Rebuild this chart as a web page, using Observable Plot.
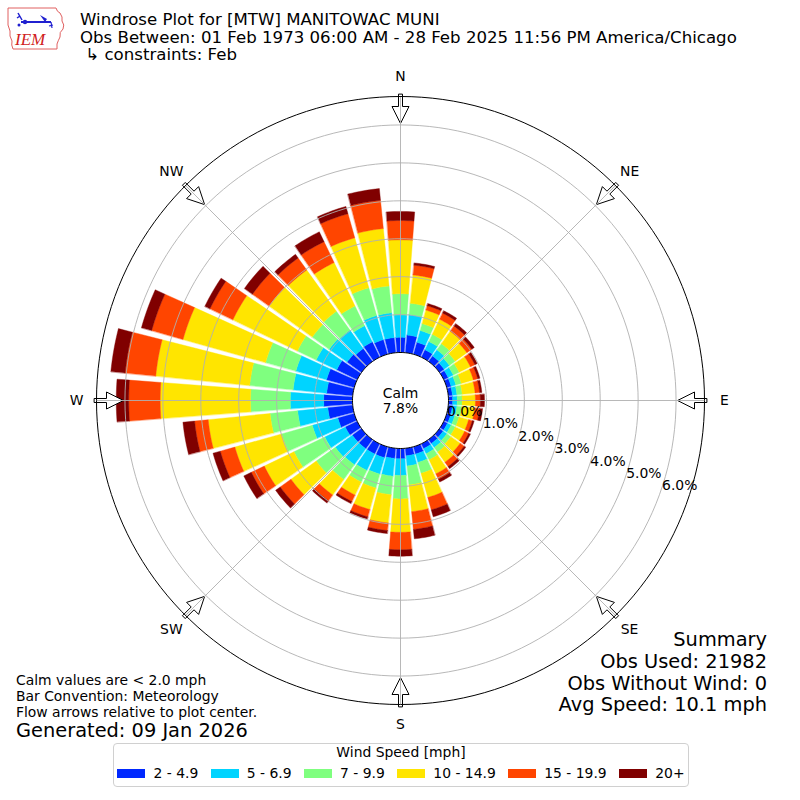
<!DOCTYPE html>
<html><head><meta charset="utf-8">
<script src="https://cdn.jsdelivr.net/npm/d3@7"></script>
<script src="https://cdn.jsdelivr.net/npm/@observablehq/plot@0.6"></script>
<style>
body{margin:0;background:#fff;font-family:"DejaVu Sans",sans-serif;}
#wrap{position:relative;width:800px;height:800px;overflow:hidden;background:#fff;}
#wrap svg.plot{position:absolute;left:0;top:0;}
.t{position:absolute;white-space:pre;line-height:0.9;color:#000;font-family:"DejaVu Sans",sans-serif;}
#legend{position:absolute;left:113px;top:743px;width:576px;height:44px;border:1px solid #d0d0d0;border-radius:4px;box-sizing:border-box;background:#fff;}
#legend .ttl{position:absolute;left:0;right:0;top:2.2px;text-align:center;font-size:13.9px;line-height:1;white-space:nowrap;}
#legend .row{position:absolute;left:0;right:0;top:22.5px;display:flex;justify-content:center;align-items:center;font-size:13.9px;line-height:1;white-space:nowrap;}
#legend .sw{width:28px;height:9.7px;margin-right:8px;flex:none;}
#legend .it{display:flex;align-items:center;margin:0 6.25px;flex:none;white-space:nowrap;}
</style></head><body><div id="wrap"></div>
<script>
// ---- data ----
const directions = [0,10,20,30,40,50,60,70,80,90,100,110,120,130,140,150,160,170,180,190,200,210,220,230,240,250,260,270,280,290,300,310,320,330,340,350];
const speedBins = ["2 - 4.9","5 - 6.9","7 - 9.9","10 - 14.9","15 - 19.9","20+"];
const binColors = ["#0028ff","#00d4ff","#7fff7f","#ffe500","#ff4500","#800000"];
const s2_4   = [.40,.47,.33,.22,.18,.15,.13,.12,.11,.11,.11,.11,.11,.12,.13,.14,.20,.20,.27,.27,.30,.30,.30,.30,.35,.45,.66,.76,.69,.76,.60,.47,.42,.45,.40,.40];
const s5_6   = [.59,.54,.32,.24,.20,.17,.15,.13,.12,.12,.12,.11,.11,.12,.13,.15,.23,.27,.44,.47,.45,.48,.52,.55,.60,.70,.80,.88,.89,.84,.60,.58,.60,.47,.66,.66];
const s7_9   = [.56,.30,.19,.21,.20,.19,.17,.15,.14,.13,.13,.12,.12,.13,.15,.18,.30,.50,.62,.49,.38,.34,.48,.62,.90,.84,.73,1.05,1.15,.83,.55,.55,.61,.58,.76,.71];
const s10_14 = [1.42,.75,.37,.44,.40,.38,.33,.33,.34,.35,.34,.26,.27,.30,.33,.41,.66,.71,.88,.75,.59,.38,.50,.82,.87,1.28,1.64,2.38,2.49,2.26,1.89,1.40,1.34,1.27,1.37,1.52];
const s15_19 = [.51,.26,.12,.18,.17,.16,.13,.12,.12,.13,.13,.10,.12,.13,.14,.16,.34,.47,.46,.20,.20,.19,.19,.35,.38,.40,.36,.83,.81,.86,.67,.54,.39,.61,.66,.75];
const s20p   = [.24,.06,.06,.07,.08,.08,.07,.06,.06,.11,.08,.05,.05,.05,.07,.08,.19,.25,.17,.08,.06,.06,.07,.15,.22,.20,.31,.33,.38,.28,.15,.26,.12,.29,.20,.31];
const calmPct = 7.8;
const ringTicks = [0,1,2,3,4,5,6];
const compassNames = ["N","NE","E","SE","S","SW","W","NW"];
const compassDeg = [0,45,90,135,180,225,270,315];
const titleLines = ["Windrose Plot for [MTW] MANITOWAC MUNI","Obs Between: 01 Feb 1973 06:00 AM - 28 Feb 2025 11:56 PM America/Chicago"," \u21b3 constraints: Feb"];
const footLines = ["Calm values are < 2.0 mph","Bar Convention: Meteorology","Flow arrows relative to plot center."];
const generated = "Generated: 09 Jan 2026";
const summaryLines = ["Summary","Obs Used: 21982","Obs Without Wind: 0","Avg Speed: 10.1 mph"];
const legendTitle = "Wind Speed [mph]";

// ---- geometry (layout) ----
const RMAX = 6.75, PX_OUTER = 304, PX_HOLE = 48;
const U = (PX_OUTER - PX_HOLE) / RMAX;   // px per percent
const HOLE = PX_HOLE / U;
const D = 400 / U;
const HALF = 4.3;
const rad = Math.PI / 180;
const px = (deg, r) => r * Math.sin(deg * rad);
const py = (deg, r) => r * Math.cos(deg * rad);

const series = [s2_4, s5_6, s7_9, s10_14, s15_19, s20p];
const wedges = [];
directions.forEach((dir, i) => {
  let cum = 0;
  series.forEach((s, k) => {
    const r0 = HOLE + cum, r1 = HOLE + cum + s[i];
    cum += s[i];
    const id = dir + "-" + k, n = 8;
    for (let j = 0; j <= n; j++) { const a = dir - HALF + 2 * HALF * j / n; wedges.push({id, bin: speedBins[k], x: px(a, r0), y: py(a, r0)}); }
    for (let j = n; j >= 0; j--) { const a = dir - HALF + 2 * HALF * j / n; wedges.push({id, bin: speedBins[k], x: px(a, r1), y: py(a, r1)}); }
  });
});

const circle = (key, r) => d3.range(0, 361, 2).map(a => ({key, x: px(a, r), y: py(a, r)}));
const ringPts = ringTicks.filter(t => t > 0).flatMap(t => circle(t, HOLE + t));
const outerPts = circle("outer", HOLE + RMAX);
const calmPts = circle("calm", HOLE);

const ARROW = [[306,-2],[294,-2],[294,-8.5],[277,0],[294,8.5],[294,2],[306,2]];
const arrowPts = compassDeg.flatMap(d => ARROW.map(([r, w]) => ({d,
  x: px(d, r / U) + (w / U) * Math.cos(d * rad),
  y: py(d, r / U) - (w / U) * Math.sin(d * rad)})));

const LABEL_DEG = 109, COMPASS_R = 324 / U;

const chart = Plot.plot({
  width: 800, height: 800, margin: 0,
  x: {domain: [-D, D], axis: null},
  y: {domain: [-D, D], axis: null},
  color: {domain: speedBins, range: binColors},
  style: {fontFamily: "DejaVu Sans", background: "transparent"},
  marks: [
    Plot.line(wedges, {x: "x", y: "y", z: "id", fill: "bin", stroke: "bin", strokeWidth: 0.4, curve: "linear-closed"}),
    Plot.line(arrowPts, {x: "x", y: "y", z: "d", fill: "white", stroke: "black", strokeWidth: 1, curve: "linear-closed", strokeLinejoin: "miter"}),
    Plot.line(ringPts, {x: "x", y: "y", z: "key", stroke: "#b0b0b0", strokeWidth: 0.9}),
    Plot.link(compassDeg, {x1: () => 0, y1: () => 0, x2: d => px(d, HOLE + RMAX), y2: d => py(d, HOLE + RMAX), stroke: "#b0b0b0", strokeWidth: 0.9}),
    Plot.line(outerPts, {x: "x", y: "y", stroke: "black", strokeWidth: 1}),
    Plot.line(calmPts, {x: "x", y: "y", fill: "white", stroke: "black", strokeWidth: 1, curve: "linear-closed"}),
    Plot.text(ringTicks, {x: t => px(LABEL_DEG, HOLE + t), y: t => py(LABEL_DEG, HOLE + t), text: t => t.toFixed(1) + "%", textAnchor: "start", lineAnchor: "bottom", dx: 1, fontSize: 13.9}),
    Plot.text(compassNames, {x: (d, i) => px(compassDeg[i], COMPASS_R), y: (d, i) => py(compassDeg[i], COMPASS_R), text: d => d, fontSize: 13.9, lineAnchor: "middle"}),
    Plot.text(["Calm\n" + calmPct + "%"], {x: () => 0, y: () => 0, text: d => d, fontSize: 13.9, lineHeight: 1.08, lineAnchor: "middle"})
  ]
});
chart.classList.add("plot");
const wrap = document.getElementById("wrap");
wrap.appendChild(chart);

// baseline = top + 0.796 * fontSize for DejaVu Sans with line-height 0.9
function addText(str, left, baseline, size, align) {
  const el = document.createElement("div");
  el.className = "t";
  el.textContent = str;
  el.style.fontSize = size + "px";
  el.style.top = (baseline - 0.796 * size) + "px";
  if (align === "right") el.style.right = (800 - left) + "px"; else el.style.left = left + "px";
  wrap.appendChild(el);
}
const tb = [26.7, 44, 61.3];
titleLines.forEach((s, i) => addText(s, 80, tb[i], 16.6));
const fb = [685.5, 701, 716.7];
footLines.forEach((s, i) => addText(s, 16, fb[i], 13.9));
addText(generated, 16, 737.6, 19.4);
const sb = [646.7, 668.4, 690.1, 711.8];
summaryLines.forEach((s, i) => addText(s, 767, sb[i], 19.4, "right"));

// legend
const lg = document.createElement("div");
lg.id = "legend";
lg.innerHTML = `<div class="ttl">${legendTitle}</div><div class="row">` +
  speedBins.map((b, i) => `<div class="it"><div class="sw" style="background:${binColors[i]}"></div><span>${b}</span></div>`).join("") + `</div>`;
wrap.appendChild(lg);

// logo
const logo = document.createElementNS("http://www.w3.org/2000/svg", "svg");
logo.setAttribute("width", 70); logo.setAttribute("height", 55);
logo.style.position = "absolute"; logo.style.left = "0px"; logo.style.top = "0px";
logo.innerHTML = `
<path d="M8,8 L56,8 Q57,12 60,13 Q63,17 62,21 Q65,25 63,29 Q59,32 60,37 Q58,41 57,44 L57,49 L13,49 Q11,45 12,41 Q9,36 10,31 Q7,25 8,19 Z" fill="none" stroke="#e06060" stroke-width="1"/>
<line x1="21" y1="22" x2="51" y2="22" stroke="#2020d0" stroke-width="2"/>
<circle cx="25" cy="22" r="2.2" fill="#2020d0"/>
<path d="M18,13 L22,20 M20,16 L17,18" stroke="#2020d0" stroke-width="1.5" fill="none"/>
<path d="M40,15 L47,19 L45,22 Z" fill="#2020d0"/>
<path d="M51,22 L52,28 M49,26 L53,25" stroke="#2020d0" stroke-width="1.2" fill="none"/>
<circle cx="19" cy="25" r="1.5" fill="#2020d0"/>
<text x="15" y="45" font-family="Liberation Serif, serif" font-style="italic" font-size="17" fill="#d02020">IEM</text>`;
wrap.appendChild(logo);
</script></body></html>
